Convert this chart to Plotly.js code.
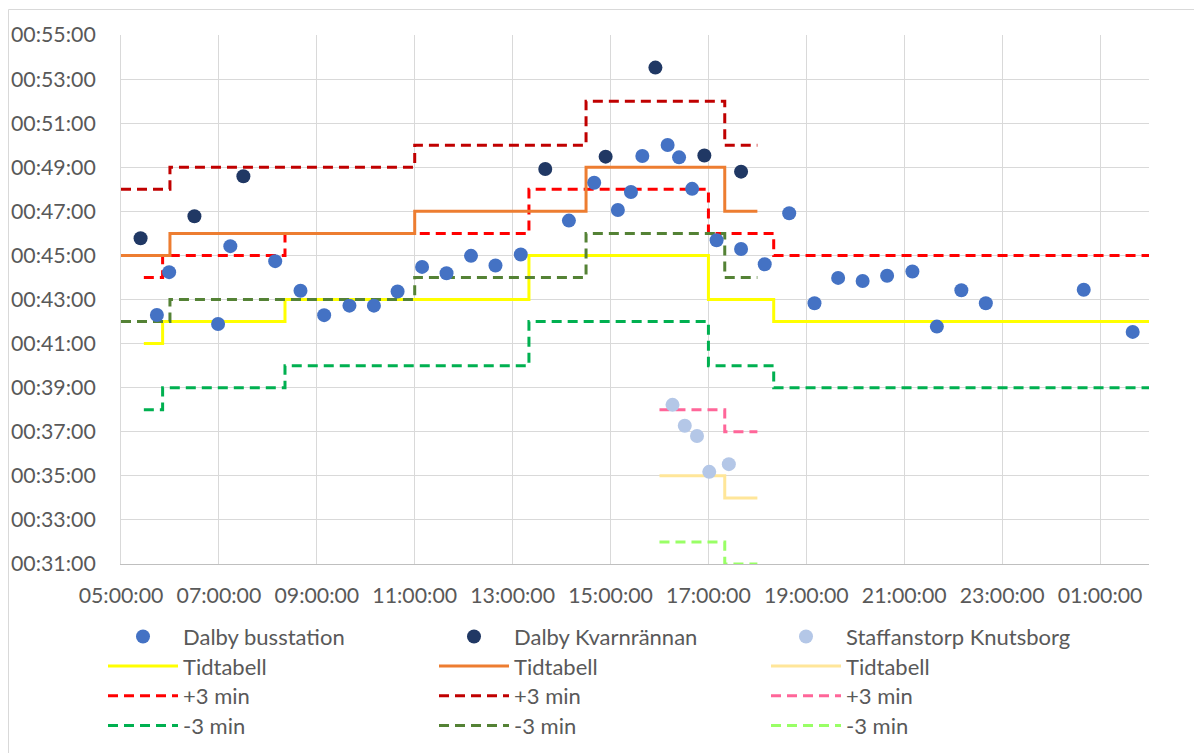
<!DOCTYPE html>
<html>
<head>
<meta charset="utf-8">
<script src="https://cdn.plot.ly/plotly-3.0.1.min.js"></script>
<style>
  html, body { margin: 0; padding: 0; background: #fff; }
  #chart { width: 1194px; height: 753px; }
</style>
</head>
<body>
<div id="chart"></div>
<script>
// ---------- data (x = time of day "HH:MM", y = travel time in minutes) ----------
const busTimes = ["05:44","05:59","06:59","07:14","08:09","08:40","09:09","09:40","10:10","10:39",
                  "11:09","11:39","12:09","12:39","13:10","14:09","14:40","15:09","15:25","15:39",
                  "16:10","16:24","16:40","17:10","17:40","18:09","18:39","19:10","19:39","20:09",
                  "20:39","21:10","21:40","22:10","22:40","00:40","01:40"];
const busValues = [42.30,44.24,41.89,45.42,44.74,43.40,42.29,42.72,42.72,43.36,
                   44.48,44.19,44.98,44.54,45.04,46.58,48.30,47.06,47.88,49.51,
                   50.01,49.45,48.02,45.69,45.29,44.60,46.91,42.83,43.98,43.84,
                   44.08,44.27,41.77,43.42,42.83,43.44,41.53];

const kvarnTimes  = ["05:24","06:30","07:30","13:40","14:54","15:55","16:55","17:40"];
const kvarnValues = [45.78,46.78,48.59,48.92,49.48,53.52,49.53,48.80];

const staffTimes  = ["16:16","16:31","16:46","17:01","17:25"];
const staffValues = [38.22,37.27,36.81,35.18,35.53];

// timetable steps (value holds from each time until the next one)
const busStepTimes   = ["05:28","05:51","08:21","13:20","17:00","18:20","02:00"];
const busTimetable   = [41,42,43,45,43,42,42];
const busPlus3       = [44,45,46,48,46,45,45];
const busMinus3      = [38,39,40,42,40,39,39];

const kvarnStepTimes = ["05:00","06:00","11:00","14:30","17:20","18:00"];
const kvarnTimetable = [45,46,47,49,47,47];
const kvarnPlus3     = [48,49,50,52,50,50];
const kvarnMinus3    = [42,43,44,46,44,44];

const staffStepTimes = ["16:00","17:20","18:00"];
const staffTimetable = [35,34,34];
const staffPlus3     = [38,37,37];
const staffMinus3    = [32,31,31];

const xTickStart = "05:00", xEnd = "02:00";
const yMin = 31, yMax = 55;

// ---------- helpers ----------
const H = 3600000, M = 60000;
function tx(s) {               // time of day -> ms, times before 05:00 belong to next day
  const [h, m] = s.split(":").map(Number);
  let v = h * H + m * M;
  if (h < 5) v += 24 * H;
  return v;
}
function ty(mins) { return mins * M; }

const FONT = "Lato, 'Open Sans', sans-serif";
const TICK_FS = 21.3;
const LEG_FS = 22;

// pixel helpers for paper coordinates
const W = 1194, HT = 753, ML = 121, MR = 45, MT = 35, MB = 189;
const PW = W - ML - MR, PH = HT - MT - MB;
const px = p => (p - ML) / PW;
const py = p => (HT - MB - p) / PH;

// legend grid: 3 columns x 4 rows, one legend per cell
const colLeft = [103, 434, 766];
const rowMid  = [636.7, 666.2, 695.9, 725.7];
const legendKey = (row, col) => {
  const n = row * 3 + col + 1;
  return n === 1 ? "legend" : "legend" + n;
};

function stepTrace(times, vals, color, dash, name, row, col) {
  return {
    type: "scatter", mode: "lines", name: name,
    x: times.map(tx), y: vals.map(ty),
    line: { color: color, width: 3, shape: "hv", dash: dash },
    legend: legendKey(row, col), hoverinfo: "skip"
  };
}
function pointTrace(times, vals, color, name, col) {
  return {
    type: "scatter", mode: "markers", name: name,
    x: times.map(tx), y: vals.map(ty),
    marker: { color: color, size: 14, line: { width: 0 } },
    legend: legendKey(0, col), cliponaxis: false
  };
}
const DASH = "10px,6px";

const traces = [
  stepTrace(busStepTimes, busTimetable, "#FFFF00", "solid", "Tidtabell", 1, 0),
  stepTrace(busStepTimes, busPlus3, "#FF0000", DASH, "+3 min", 2, 0),
  stepTrace(busStepTimes, busMinus3, "#00B050", DASH, "-3 min", 3, 0),
  stepTrace(kvarnStepTimes, kvarnTimetable, "#ED7D31", "solid", "Tidtabell", 1, 1),
  stepTrace(kvarnStepTimes, kvarnPlus3, "#C00000", DASH, "+3 min", 2, 1),
  stepTrace(kvarnStepTimes, kvarnMinus3, "#548235", DASH, "-3 min", 3, 1),
  stepTrace(staffStepTimes, staffTimetable, "#FFE699", "solid", "Tidtabell", 1, 2),
  stepTrace(staffStepTimes, staffPlus3, "#FF6699", DASH, "+3 min", 2, 2),
  stepTrace(staffStepTimes, staffMinus3, "#99FF66", DASH, "-3 min", 3, 2),
  pointTrace(busTimes, busValues, "#4472C4", "Dalby busstation", 0),
  pointTrace(kvarnTimes, kvarnValues, "#203864", "Dalby Kvarnrännan", 1),
  pointTrace(staffTimes, staffValues, "#B4C7E7", "Staffanstorp Knutsborg", 2)
];

const layout = {
  width: W, height: HT,
  margin: { l: ML, r: MR, t: MT, b: MB, autoexpand: false },
  paper_bgcolor: "#FFFFFF", plot_bgcolor: "#FFFFFF",
  font: { family: FONT, size: TICK_FS, color: "#595959" },
  showlegend: true,
  xaxis: {
    type: "date",
    range: [tx(xTickStart), tx(xEnd)],
    tick0: tx(xTickStart), dtick: 2 * H,
    tickformat: "%H:%M:%S",
    showgrid: true, gridcolor: "#D9D9D9", gridwidth: 1,
    showline: true, linecolor: "#BFBFBF", linewidth: 1,
    zeroline: false, ticks: "", ticklabelstandoff: 12,
    tickfont: { family: FONT, size: TICK_FS, color: "#595959" },
    fixedrange: true
  },
  yaxis: {
    type: "date",
    range: [ty(yMin), ty(yMax)],
    tick0: ty(yMin), dtick: 2 * M,
    tickformat: "%H:%M:%S",
    showgrid: true, gridcolor: "#D9D9D9", gridwidth: 1,
    showline: true, linecolor: "#D9D9D9", linewidth: 1,
    zeroline: false, ticks: "", ticklabelstandoff: 20,
    tickfont: { family: FONT, size: TICK_FS, color: "#595959" },
    fixedrange: true
  },
  shapes: [{
    type: "rect", xref: "paper", yref: "paper", layer: "below",
    x0: px(8.5), x1: px(1210), y0: py(9.5), y1: py(780),
    line: { color: "#D9D9D9", width: 1 }, fillcolor: "rgba(0,0,0,0)"
  }]
};

for (let r = 0; r < 4; r++) {
  for (let c = 0; c < 3; c++) {
    layout[legendKey(r, c)] = {
      orientation: "v", bgcolor: "rgba(0,0,0,0)", borderwidth: 0,
      itemwidth: 70, font: { family: FONT, size: LEG_FS, color: "#595959" },
      xanchor: "left", yanchor: "middle",
      x: px(colLeft[c]), y: py(rowMid[r]),
      itemclick: false, itemdoubleclick: false
    };
  }
}

Plotly.newPlot("chart", traces, layout, { displayModeBar: false, staticPlot: true });
</script>
</body>
</html>
